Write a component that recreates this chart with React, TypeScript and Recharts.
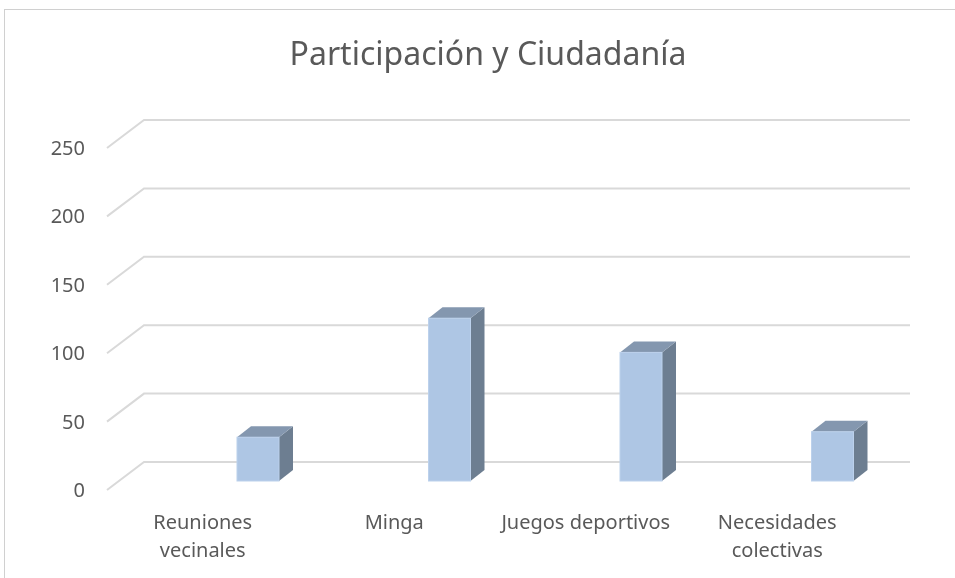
import { BarChart, Bar, XAxis, YAxis, CartesianGrid } from 'recharts';

const categories = ['Reuniones vecinales', 'Minga', 'Juegos deportivos', 'Necesidades colectivas'];
const values = [32, 119, 94, 36];
const yTicks = [0, 50, 100, 150, 200, 250];

const data = categories.map((name, i) => ({ name, value: values[i] }));

// oblique offset between back wall and front plane
const DX = 37;
const DY = 28;
const FONT = '"Noto Sans", sans-serif';

const Bar3D = (props: any) => {
  const { x, y, width, height } = props;
  const w = 42;
  const cx = x + width / 2 + 18;
  const left = cx - w / 2;
  const right = cx + w / 2;
  const top = y + 19;
  const bottom = y + height + 19;
  const ox = 14;
  const oy = 11;
  return (
    <g>
      <polygon
        points={`${right},${top} ${right + ox},${top - oy} ${right + ox},${bottom - oy} ${right},${bottom}`}
        fill="#6d7e91"
      />
      <polygon
        points={`${left},${top} ${left + ox},${top - oy} ${right + ox},${top - oy} ${right},${top}`}
        fill="#8497af"
      />
      <rect x={left} y={top} width={w} height={bottom - top} fill="#aec6e4" stroke="#bcd1ec" strokeWidth={1} />
    </g>
  );
};

const GridLine = (p: any) => (
  <polyline
    key={p.key ?? `${p.y1}`}
    points={`${p.x1 - DX},${p.y1 + DY} ${p.x1},${p.y1} ${p.x2},${p.y2}`}
    fill="none"
    stroke="#d9d9d9"
    strokeWidth={2}
  />
);

const YTick = (props: any) => {
  const { y, payload } = props;
  return (
    <text x={85} y={y + DY + 7} textAnchor="end" fill="#595959" fontSize={20} fontFamily={FONT}>
      {payload.value}
    </text>
  );
};

const XTick = (props: any) => {
  const { x, y, payload } = props;
  const label: string = payload.value;
  const lines = label.length > 18 ? label.split(' ') : [label];
  return (
    <text x={x - DX} y={y + 59} textAnchor="middle" fill="#595959" fontSize={20} fontFamily={FONT}>
      {lines.map((l, i) => (
        <tspan key={l} x={x - DX} dy={i === 0 ? 0 : 28}>
          {l}
        </tspan>
      ))}
    </text>
  );
};

export default function App() {
  return (
    <div style={{ position: 'relative', width: 955, height: 578, margin: -8, overflow: 'hidden', background: '#fff' }}>
      <div
        style={{
          position: 'fixed',
          left: 4,
          top: 9,
          width: 1100,
          height: 700,
          borderTop: '1px solid #d0d0d0',
          borderLeft: '1px solid #d0d0d0',
        }}
      />
      <div
        style={{
          position: 'absolute',
          top: 31,
          left: 0,
          width: 976,
          textAlign: 'center',
          fontFamily: FONT,
          fontSize: 32,
          color: '#595959',
        }}
      >
        Participación y Ciudadanía
      </div>
      <div style={{ position: 'absolute', left: 0, top: 0 }}>
        <BarChart width={955} height={578} data={data} margin={{ top: 120, right: 45, bottom: 56, left: 84 }}>
          <CartesianGrid vertical={false} horizontal={GridLine} />
          <XAxis dataKey="name" axisLine={false} tickLine={false} height={60} tick={<XTick />} interval={0} />
          <YAxis
            domain={[0, 250]}
            ticks={yTicks}
            axisLine={false}
            tickLine={false}
            width={60}
            tick={<YTick />}
          />
          <Bar dataKey="value" barSize={42} shape={<Bar3D />} isAnimationActive={false} />
        </BarChart>
      </div>
    </div>
  );
}
